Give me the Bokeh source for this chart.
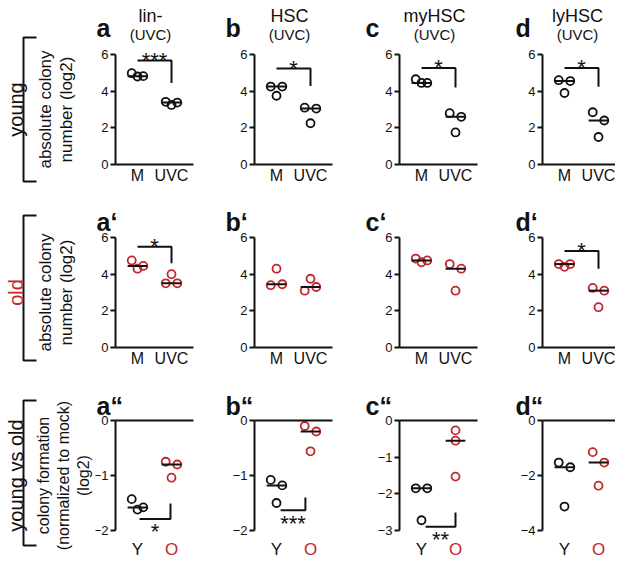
import numpy as np
from bokeh.plotting import figure
from bokeh.models import Range1d, LinearAxis, FixedTicker
from bokeh.layouts import row, column
from bokeh.embed import file_html
from bokeh.resources import INLINE
from bokeh.core.properties import value

FONT = "Liberation Sans"
RED = "#c1272d"
INK = "#111111"

# ---------------- data ----------------
PANEL_LETTERS = [["a", "b", "c", "d"],
                 ["a\u2018", "b\u2018", "c\u2018", "d\u2018"],
                 ["a\u201c", "b\u201c", "c\u201c", "d\u201c"]]
TITLES = ["lin-", "HSC", "myHSC", "lyHSC"]
SUBTITLE = "(UVC)"
ROW_LABELS = ["young", "old", "young vs old"]
ROW_LABEL_COLORS = [INK, RED, INK]
ROW_SUBLABELS = [["absolute colony", "number (log2)"],
                 ["absolute colony", "number (log2)"],
                 ["colony formation", "(normalized to mock)", "(log2)"]]
CATS_TOP = ["M", "UVC"]
CATS_BOTTOM = ["Y", "O"]
YTICKS_TOP = [0, 2, 4, 6]
YLIM_BOTTOM = [-2, -2, -3, -4]
YTICKS_BOTTOM = [[0, -1, -2], [0, -1, -2], [0, -1, -2, -3], [0, -2, -4]]

# row 1: young, absolute colony number (log2)
YOUNG_M = [[4.98, 4.8, 4.82], [4.25, 3.75, 4.25], [4.65, 4.45, 4.45], [4.6, 3.9, 4.55]]
YOUNG_UVC = [[3.42, 3.25, 3.38], [3.1, 2.25, 3.05], [2.8, 1.75, 2.6], [2.85, 1.5, 2.4]]
# row 2: old, absolute colony number (log2)
OLD_M = [[4.75, 4.3, 4.45], [3.4, 4.3, 3.45], [4.85, 4.65, 4.75], [4.55, 4.4, 4.55]]
OLD_UVC = [[3.5, 4.0, 3.5], [3.1, 3.75, 3.3], [4.55, 3.1, 4.3], [3.25, 2.2, 3.1]]
# row 3: colony formation normalized to mock (log2)
NORM_Y = [[-1.43, -1.62, -1.58], [-1.08, -1.5, -1.18], [-1.85, -2.72, -1.85], [-1.53, -3.13, -1.7]]
NORM_O = [[-0.75, -1.04, -0.8], [-0.1, -0.56, -0.2], [-0.27, -0.55, -1.53], [-1.15, -2.37, -1.53]]

# significance: (label, bar level, end of the drop)
SIG_YOUNG = [("***", 5.67, 4.45), ("*", 5.23, 4.28), ("*", 5.27, 4.2), ("*", 5.27, 4.24)]
SIG_OLD = [("*", 5.5, 4.6), None, None, ("*", 5.27, 4.3)]
SIG_NORM = [("*", -1.79, -1.51), ("***", -1.63, -1.4), ("**", -2.9, -2.51), None]
SIG_NORM_SPAN = [(1.06, 1.97), (1.12, 1.85), (1.12, 2.0), None]
STACKED = {(2, 2, 1)}   # (row, panel, group) drawn without horizontal spread

# ---------------- layout constants ----------------
SX = 34.0                 # px per category unit
X_AXIS = 1 - 22.0 / SX    # data x of the y axis
FIG_W = [123, 145, 143, 109]
AXIS_PX = [20, 36, 36, 36]
AXIS_LEN = [78, 78, 78, 73]
ROW_H = [184, 184, 189]
TOP_PX = [54, 53, 52]
FRAME_PX = 110.0
LEFT_W = 95
LETTER_DX = [-19, -29, -34, -27]
TITLE_DX = 35
SPREAD = 0.17
HALF_MED = 0.29
BRACKETS = [(37, 181), (31, 176), (32, 177)]
TEXT_CY = [109, 108, 107]
SUB_SIZE = ["17px", "17px", "16px"]
SUB_X = [[45, 66], [45, 66], [43, 63, 83]]


def base_fig(w, h, xr, yr):
    p = figure(width=w, height=h, x_range=Range1d(*xr), y_range=Range1d(*yr),
               x_axis_location=None, y_axis_location=None, toolbar_location=None,
               output_backend="svg", min_border=0, title=None,
               outline_line_color=None, background_fill_color="white",
               border_fill_color="white")
    p.grid.visible = False
    return p


def txt(p, x, y, s, size, color=INK, align="center", bold=False, angle=0.0):
    p.text(x=[x], y=[y], text=[s], text_font=value(FONT), text_font_size=size,
           text_color=color, text_align=align, text_baseline="alphabetic",
           text_font_style="bold" if bold else "normal", angle=angle)


def panel(ri, pi):
    w, h = FIG_W[pi], ROW_H[ri]
    if ri < 2:
        ylo, yhi, yticks = 0.0, 6.0, YTICKS_TOP
    else:
        ylo, yhi, yticks = float(YLIM_BOTTOM[pi]), 0.0, YTICKS_BOTTOM[pi]
    sy = FRAME_PX / (yhi - ylo)
    y1 = yhi + TOP_PX[ri] / sy
    x0 = X_AXIS - AXIS_PX[pi] / SX
    p = base_fig(w, h, (x0, x0 + w / SX), (y1 - h / sy, y1))
    px_x = lambda d: X_AXIS + d / SX
    px_y = lambda d: y1 - d / sy
    xend = X_AXIS + AXIS_LEN[pi] / SX

    common = dict(axis_line_width=2, axis_line_color=INK, major_tick_line_width=2,
                  major_tick_line_color=INK, minor_tick_line_color=None,
                  major_label_text_font=FONT, major_label_text_color=INK)
    yax = LinearAxis(fixed_location=X_AXIS, bounds=(ylo, yhi),
                     ticker=FixedTicker(ticks=yticks, minor_ticks=[]),
                     major_tick_in=0, major_tick_out=5, major_label_standoff=2,
                     major_label_text_font_size="13px", **common)
    p.add_layout(yax, "left")

    if ri < 2:
        xax = LinearAxis(fixed_location=0, bounds=(X_AXIS, xend),
                         ticker=FixedTicker(ticks=[1, 2], minor_ticks=[]),
                         major_label_overrides={1: CATS_TOP[0], 2: CATS_TOP[1]},
                         major_tick_in=0, major_tick_out=0, major_label_standoff=2,
                         major_label_text_font_size="16px", **common)
        p.add_layout(xax, "below")
    else:
        top = LinearAxis(fixed_location=0, bounds=(X_AXIS, xend),
                         ticker=FixedTicker(ticks=[], minor_ticks=[]),
                         major_tick_in=0, major_tick_out=0, **common)
        p.add_layout(top, "below")
        for k, (lab, col) in enumerate(zip(CATS_BOTTOM, [INK, RED])):
            ax = LinearAxis(fixed_location=ylo, ticker=FixedTicker(ticks=[k + 1], minor_ticks=[]),
                            major_label_overrides={k + 1: lab}, axis_line_color=None,
                            major_tick_line_color=None, minor_tick_line_color=None,
                            major_tick_in=0, major_tick_out=0, major_label_standoff=9,
                            major_label_text_font=FONT, major_label_text_font_size="17px",
                            major_label_text_color=col)
            p.add_layout(ax, "below")

    # titles and panel letters
    if ri == 0:
        txt(p, px_x(TITLE_DX), px_y(15), TITLES[pi], "18px")
        txt(p, px_x(TITLE_DX), px_y(34), SUBTITLE, "15px")
        txt(p, px_x(LETTER_DX[pi]), px_y(27), PANEL_LETTERS[ri][pi], "25px", align="left", bold=True)
    else:
        txt(p, px_x(LETTER_DX[pi]), px_y(37), PANEL_LETTERS[ri][pi], "25px", align="left", bold=True)

    # data
    if ri == 0:
        groups, cols = [YOUNG_M[pi], YOUNG_UVC[pi]], [INK, INK]
    elif ri == 1:
        groups, cols = [OLD_M[pi], OLD_UVC[pi]], [RED, RED]
    else:
        groups, cols = [NORM_Y[pi], NORM_O[pi]], [INK, RED]
    for gi, (vals, col) in enumerate(zip(groups, cols)):
        offs = [0.0] * len(vals) if (ri, pi, gi) in STACKED else [-SPREAD, 0.0, SPREAD][:len(vals)]
        xs = [gi + 1 + o for o in offs]
        p.scatter(xs, vals, marker="circle", size=8, fill_color=None, line_color=col, line_width=1.8)
        med = float(np.median(vals))
        p.segment(x0=[gi + 1 - HALF_MED], y0=[med], x1=[gi + 1 + HALF_MED], y1=[med],
                  line_color=INK, line_width=2)

    # significance brackets
    if ri < 2:
        sig = (SIG_YOUNG if ri == 0 else SIG_OLD)[pi]
        if sig:
            lab, lev, end = sig
            p.line([1, 2, 2], [lev, lev, end], line_color=INK, line_width=2)
            txt(p, 1.5, lev + 0.5 / sy, lab, "22px")
    else:
        sig = SIG_NORM[pi]
        if sig:
            lab, lev, end = sig
            xa, xb = SIG_NORM_SPAN[pi]
            p.line([xa, xb, xb], [lev, lev, end], line_color=INK, line_width=2)
            txt(p, (xa + xb) / 2, lev - 13.0 / sy, lab, "22px")
    return p


def left_fig(ri):
    h = ROW_H[ri]
    p = base_fig(LEFT_W, h, (0, LEFT_W), (0, h))
    t, b = BRACKETS[ri]
    p.line([36, 23, 23, 36], [h - t, h - t, h - b, h - b], line_color=INK, line_width=2)
    cy = h - TEXT_CY[ri]
    txt(p, 15, cy, ROW_LABELS[ri], "20px", color=ROW_LABEL_COLORS[ri], angle=np.pi / 2)
    for s, xb in zip(ROW_SUBLABELS[ri], SUB_X[ri]):
        txt(p, xb, cy, s, SUB_SIZE[ri], angle=np.pi / 2)
    return p


rows = []
for ri in range(3):
    rows.append(row([left_fig(ri)] + [panel(ri, pi) for pi in range(4)]))
layout = column(rows)

open("out.html", "w").write(file_html(layout, INLINE))
